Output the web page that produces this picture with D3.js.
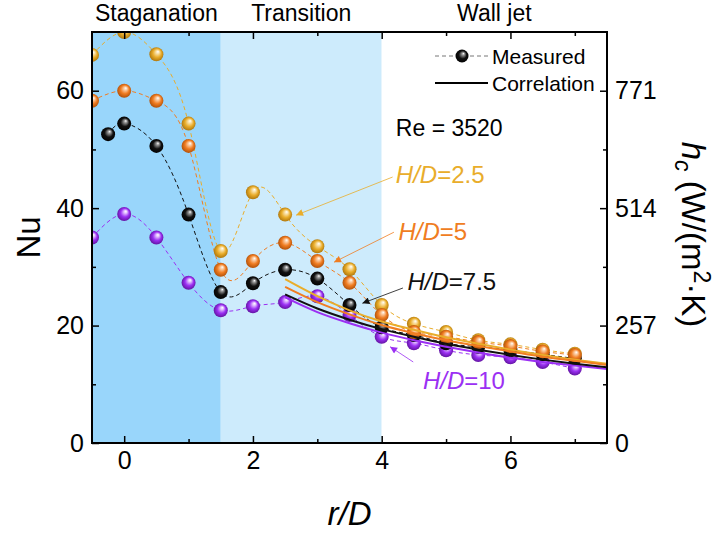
<!DOCTYPE html>
<html>
<head>
<meta charset="utf-8">
<script src="https://cdn.jsdelivr.net/npm/d3@7"></script>
<style>
body { margin: 0; background: #fff; }
svg { font-family: "Liberation Sans", Arial, sans-serif; }
</style>
</head>
<body>
<svg id="chart" width="719" height="533"></svg>
<script>
// r/D positions of measured points
var rMeasured = [-0.5, 0, 0.5, 1, 1.5, 2, 2.5, 3, 3.5, 4, 4.5, 5, 5.5, 6, 6.5, 7];
var rMeasured75 = [-0.25, 0, 0.5, 1, 1.5, 2, 2.5, 3, 3.5, 4, 4.5, 5, 5.5, 6, 6.5, 7];

// Nu measured
var nu25 = [66.1, 70.0, 66.2, 54.4, 32.7, 42.7, 38.9, 33.5, 29.6, 23.5, 20.3, 18.9, 17.5, 16.8, 15.9, 15.2];
var nu5 = [58.3, 60.0, 58.3, 50.6, 29.5, 31.0, 34.1, 31.0, 27.3, 21.8, 18.9, 18.1, 17.2, 16.5, 15.6, 15.0];
var nu75 = [52.6, 54.4, 50.6, 38.9, 25.7, 27.2, 29.5, 28.0, 23.5, 19.7, 18.4, 17.0, 16.4, 15.8, 15.1, 14.4];
var nu10 = [35.0, 39.0, 35.0, 27.3, 22.6, 23.3, 24.0, 25.0, 21.8, 18.1, 17.0, 15.8, 15.0, 14.6, 13.8, 12.7];

// correlation curves
var rCorr = [2.5, 3, 3.5, 4, 4.5, 5, 5.5, 6, 6.5, 7, 7.5];
var corr25 = [27.9, 25.0, 22.6, 20.7, 19.3, 18.0, 16.9, 15.9, 15.0, 14.2, 13.5];
var corr5 = [26.6, 24.0, 21.9, 20.1, 18.7, 17.5, 16.5, 15.6, 14.7, 14.0, 13.3];
var corr75 = [25.3, 22.9, 21.0, 19.4, 18.1, 16.9, 15.9, 15.0, 14.2, 13.5, 12.9];
var corr10 = [24.8, 22.3, 20.4, 18.8, 17.5, 16.4, 15.4, 14.5, 13.8, 13.2, 12.6];

// regions
var regionNames = ["Staganation", "Transition", "Wall jet"];
var regionEdges = [-0.5, 1.5, 4, 7.5];

// ticks
var xMajor = [0, 2, 4, 6], xMinor = [1, 3, 5, 7];
var yMajor = [0, 20, 40, 60], yMinor = [10, 30, 50];
var hMajor = [0, 257, 514, 771], hMinor = [128.5, 385.5, 642.5];

var svg = d3.select("#chart"),
    MARGINS = { top: 32, right: 112, bottom: 90, left: 92 },
    WIDTH = 719, HEIGHT = 533;

var xScale = d3.scaleLinear()
    .domain([-0.5, 7.5])
    .range([MARGINS.left, WIDTH - MARGINS.right]);
var yScale = d3.scaleLinear()
    .domain([0, 70])
    .range([HEIGHT - MARGINS.bottom, MARGINS.top]);
var hScale = d3.scaleLinear()
    .domain([0, 70 * 771 / 60])
    .range([HEIGHT - MARGINS.bottom, MARGINS.top]);

var series = [
    { name: "10", r: rMeasured, nu: nu10, corr: corr10, color: "#9b30f3", dark: "#5a1096", light: "#e6c8ff" },
    { name: "7.5", r: rMeasured75, nu: nu75, corr: corr75, color: "#111111", dark: "#000000", light: "#9a9a9a" },
    { name: "2.5", r: rMeasured, nu: nu25, corr: corr25, color: "#e9ad2b", dark: "#a66f08", light: "#fbe6b4" },
    { name: "5", r: rMeasured, nu: nu5, corr: corr5, color: "#f07d22", dark: "#a84a05", light: "#fcd2ad" }
];

var defs = svg.append("defs");
defs.append("clipPath").attr("id", "plotclip")
    .append("rect")
    .attr("x", xScale(-0.5)).attr("y", yScale(70))
    .attr("width", xScale(7.5) - xScale(-0.5))
    .attr("height", yScale(0) - yScale(70));

series.forEach(function (s, i) {
    var g = defs.append("radialGradient").attr("id", "ball" + i)
        .attr("cx", "50%").attr("cy", "50%").attr("r", "55%")
        .attr("fx", "62%").attr("fy", "30%");
    g.append("stop").attr("offset", "0%").attr("stop-color", "#ffffff");
    g.append("stop").attr("offset", "18%").attr("stop-color", s.light);
    g.append("stop").attr("offset", "55%").attr("stop-color", s.color);
    g.append("stop").attr("offset", "100%").attr("stop-color", s.dark);

    defs.append("marker").attr("id", "arrow" + i)
        .attr("viewBox", "0 0 10 10").attr("refX", 10).attr("refY", 5)
        .attr("markerWidth", 9).attr("markerHeight", 7)
        .attr("markerUnits", "userSpaceOnUse")
        .attr("orient", "auto")
        .append("path").attr("d", "M0,0L10,5L0,10z").attr("fill", s.color);
});

// background regions
var bandColors = ["#99d6fb", "#cdebfc", "#ffffff"];
svg.append("g").selectAll("rect")
    .data(regionNames)
    .enter().append("rect")
    .attr("x", function (d, i) { return xScale(regionEdges[i]); })
    .attr("y", yScale(70))
    .attr("width", function (d, i) { return xScale(regionEdges[i + 1]) - xScale(regionEdges[i]); })
    .attr("height", yScale(0) - yScale(70))
    .attr("fill", function (d, i) { return bandColors[i]; });

svg.append("g").selectAll("text")
    .data(regionNames)
    .enter().append("text")
    .attr("x", function (d, i) { return (xScale(regionEdges[i]) + xScale(regionEdges[i + 1])) / 2; })
    .attr("y", 21)
    .attr("text-anchor", "middle")
    .attr("font-size", 23)
    .text(function (d) { return d; });

var plot = svg.append("g").attr("clip-path", "url(#plotclip)");

var splineGen = d3.line()
    .x(function (d) { return xScale(d[0]); })
    .y(function (d) { return yScale(d[1]); })
    .curve(d3.curveNatural);

var corrGen = d3.line()
    .x(function (d) { return xScale(d[0]); })
    .y(function (d) { return yScale(d[1]); })
    .curve(d3.curveMonotoneX);

series.forEach(function (s) {
    plot.append("path")
        .attr("d", splineGen(d3.zip(s.r, s.nu)))
        .attr("stroke", s.color)
        .attr("stroke-width", 1)
        .attr("stroke-dasharray", "4,3")
        .attr("fill", "none");
});

series.forEach(function (s, i) {
    plot.append("g").selectAll("circle")
        .data(d3.zip(s.r, s.nu))
        .enter().append("circle")
        .attr("cx", function (d) { return xScale(d[0]); })
        .attr("cy", function (d) { return yScale(d[1]); })
        .attr("r", 7)
        .attr("fill", "url(#ball" + i + ")");
});

series.forEach(function (s) {
    plot.append("path")
        .attr("d", corrGen(d3.zip(rCorr, s.corr)))
        .attr("stroke", s.color)
        .attr("stroke-width", 2)
        .attr("fill", "none");
});

// axes, ticks inward
function addAxis(axisFn, scale, vals, size, transform, labels) {
    var a = axisFn(scale).tickValues(vals).tickSizeInner(-size).tickSizeOuter(0).tickPadding(8);
    if (!labels) a.tickFormat("");
    var g = svg.append("g").attr("transform", transform).call(a);
    g.select(".domain").remove();
    g.selectAll(".tick line").attr("stroke", "#000").attr("stroke-width", 1.5);
    g.selectAll(".tick text").attr("font-size", 25).attr("fill", "#000")
        .attr("font-family", "\"Liberation Sans\", Arial, sans-serif");
    return g;
}
var bottomY = yScale(0), topY = yScale(70), leftX = xScale(-0.5), rightX = xScale(7.5);
addAxis(d3.axisBottom, xScale, xMajor, 7, "translate(0," + bottomY + ")", true);
addAxis(d3.axisBottom, xScale, xMinor, 4, "translate(0," + bottomY + ")", false);
addAxis(d3.axisTop, xScale, xMajor, 7, "translate(0," + topY + ")", false);
addAxis(d3.axisTop, xScale, xMinor, 4, "translate(0," + topY + ")", false);
addAxis(d3.axisLeft, yScale, yMajor, 7, "translate(" + leftX + ",0)", true);
addAxis(d3.axisLeft, yScale, yMinor, 4, "translate(" + leftX + ",0)", false);
addAxis(d3.axisRight, hScale, hMajor, 7, "translate(" + rightX + ",0)", true);
addAxis(d3.axisRight, hScale, hMinor, 4, "translate(" + rightX + ",0)", false);

svg.append("rect")
    .attr("x", leftX).attr("y", topY)
    .attr("width", rightX - leftX).attr("height", bottomY - topY)
    .attr("fill", "none").attr("stroke", "#000").attr("stroke-width", 2);

// axis titles
svg.append("text")
    .attr("transform", "translate(40," + (topY + bottomY) / 2 + ") rotate(-90)")
    .attr("text-anchor", "middle").attr("font-size", 33)
    .text("Nu");

svg.append("text")
    .attr("x", (leftX + rightX) / 2).attr("y", 525)
    .attr("text-anchor", "middle").attr("font-size", 33)
    .attr("font-style", "italic")
    .text("r/D");

var ht = svg.append("text")
    .attr("transform", "translate(682," + ((topY + bottomY) / 2 - 3) + ") rotate(90)")
    .attr("text-anchor", "middle").attr("font-size", 33);
ht.append("tspan").attr("font-style", "italic").text("h");
ht.append("tspan").attr("font-style", "italic").attr("font-size", 23).attr("dy", 7).text("c");
ht.append("tspan").attr("dy", -7).text(" (W/(m");
ht.append("tspan").attr("font-size", 23).attr("dy", -12).text("2");
ht.append("tspan").attr("dy", 12).text("\u00b7K)");

// legend
var lg = svg.append("g");
lg.append("line").attr("x1", 435).attr("x2", 488).attr("y1", 56).attr("y2", 56)
    .attr("stroke", "#777").attr("stroke-width", 1).attr("stroke-dasharray", "4,3");
lg.append("circle").attr("cx", 462).attr("cy", 56).attr("r", 6.5).attr("fill", "url(#ball1)");
lg.append("text").attr("x", 492).attr("y", 64).attr("font-size", 21).text("Measured");
lg.append("line").attr("x1", 435).attr("x2", 488).attr("y1", 83).attr("y2", 83)
    .attr("stroke", "#000").attr("stroke-width", 2);
lg.append("text").attr("x", 492).attr("y", 91).attr("font-size", 21).text("Correlation");

svg.append("text")
    .attr("x", xScale(4.22)).attr("y", yScale(52.3))
    .attr("font-size", 23)
    .text("Re = 3520");

// H/D annotations: [series index, text r, text Nu, arrow from r, Nu, arrow to r, Nu]
var notes = [
    [2, 4.22, 44.3, 4.17, 45.3, 2.67, 38.8],
    [3, 4.26, 34.6, 4.19, 35.9, 3.26, 30.8],
    [1, 4.40, 26.1, 4.33, 26.4, 3.70, 23.8],
    [0, 4.64, 9.2, 4.49, 13.8, 4.13, 16.4]
];
notes.forEach(function (n) {
    var s = series[n[0]];
    svg.append("line")
        .attr("x1", xScale(n[3])).attr("y1", yScale(n[4]))
        .attr("x2", xScale(n[5])).attr("y2", yScale(n[6]))
        .attr("stroke", s.color).attr("stroke-width", 0.8)
        .attr("marker-end", "url(#arrow" + n[0] + ")");
    var t = svg.append("text")
        .attr("x", xScale(n[1])).attr("y", yScale(n[2]))
        .attr("font-size", 24).attr("fill", s.color);
    t.append("tspan").attr("font-style", "italic").text("H/D");
    t.append("tspan").text("=" + s.name);
});
</script>
</body>
</html>
